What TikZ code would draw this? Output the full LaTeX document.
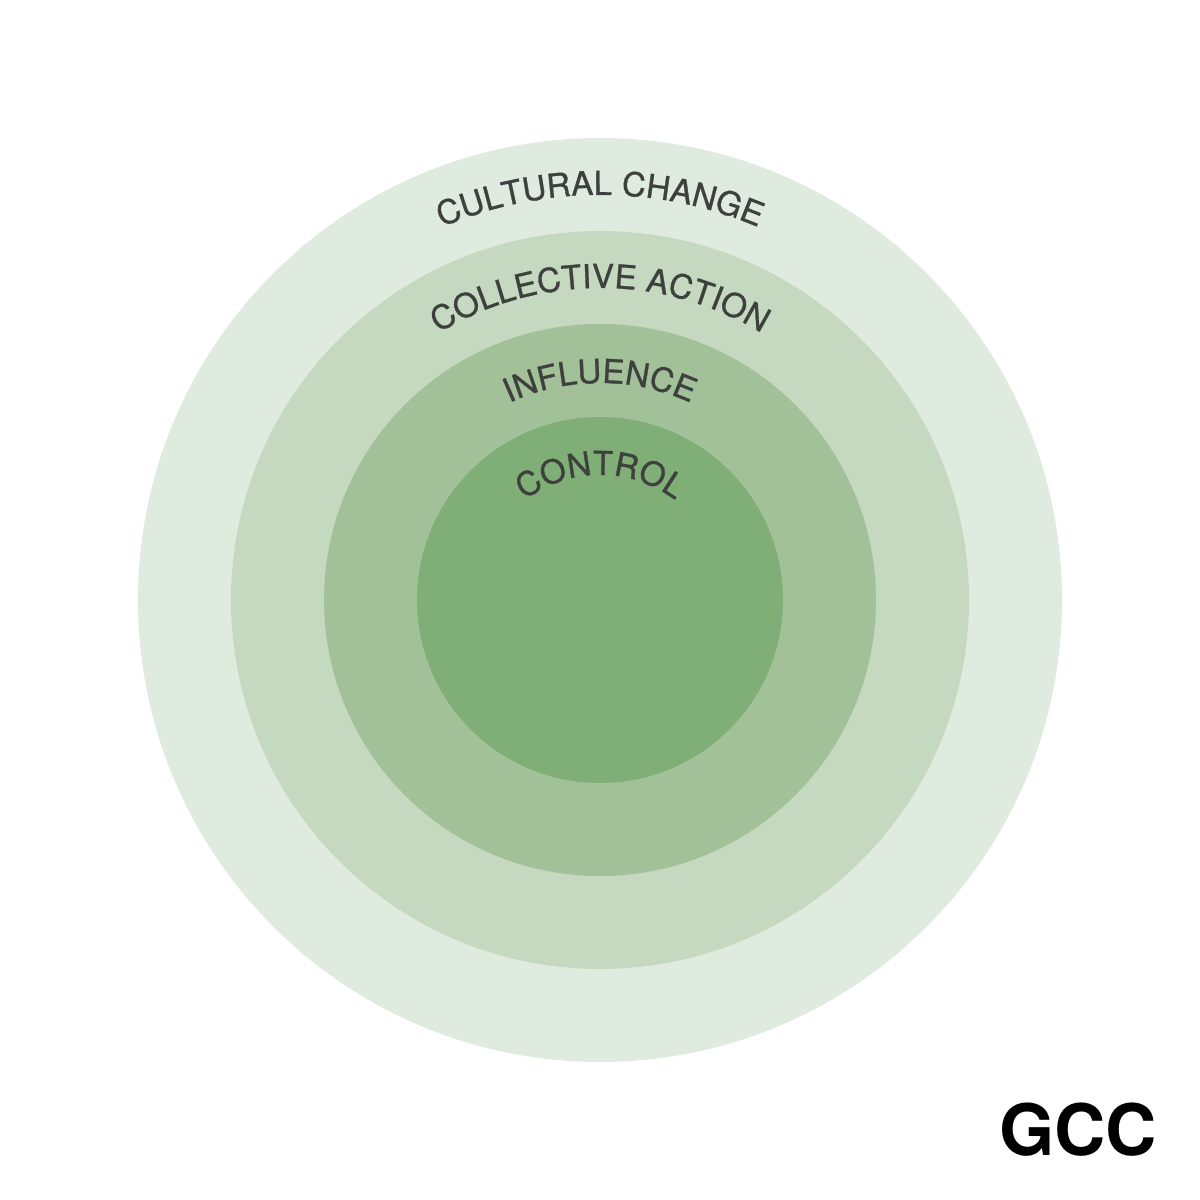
\documentclass[tikz,border=0pt]{standalone}
\usepackage{fontspec}
\setmainfont{TeX Gyre Heros}
\newfontfamily\ringfont[FakeBold=0.9]{TeX Gyre Heros}
\usetikzlibrary{decorations.text}
\definecolor{ringA}{HTML}{E0EBDF}
\definecolor{ringB}{HTML}{C4D9BF}
\definecolor{ringC}{HTML}{A3C199}
\definecolor{ringD}{HTML}{7FAE77}
\definecolor{labelgray}{HTML}{3D403D}
\tikzset{
  ring/.style={circle, draw=none, inner sep=0pt, minimum size=#1},
  ringlabel/.style={decorate, decoration={text along path, text align=center,
    text={|\ringfont\fontsize{9.4}{9.4}\selectfont\color{labelgray}|#1}}}
}
\begin{document}
\begin{tikzpicture}
  \useasboundingbox (0,0) rectangle (12,12);
  \coordinate (c) at (6,6);
  \node[ring=9.24cm, fill=ringA] (cultural) at (c) {};
  \node[ring=7.38cm, fill=ringB] (collective) at (c) {};
  \node[ring=5.52cm, fill=ringC] (influence) at (c) {};
  \node[ring=3.66cm, fill=ringD] (control) at (c) {};
  \path[ringlabel={CULTURAL CHANGE}] (c) ++(150:4.05) arc[start angle=150, end angle=30, radius=4.05];
  \path[ringlabel={COLLECTIVE ACTION}] (c) ++(150:3.12) arc[start angle=150, end angle=30, radius=3.12];
  \path[ringlabel={INFLUENCE}] (c) ++(150:2.17) arc[start angle=150, end angle=30, radius=2.17];
  \path[ringlabel={CONTROL}] (c) ++(150:1.25) arc[start angle=150, end angle=30, radius=1.25];
  \node[font=\bfseries\fontsize{20.2}{21}\selectfont] (gcc) at (10.78,0.7) {GCC};
\end{tikzpicture}
\end{document}
